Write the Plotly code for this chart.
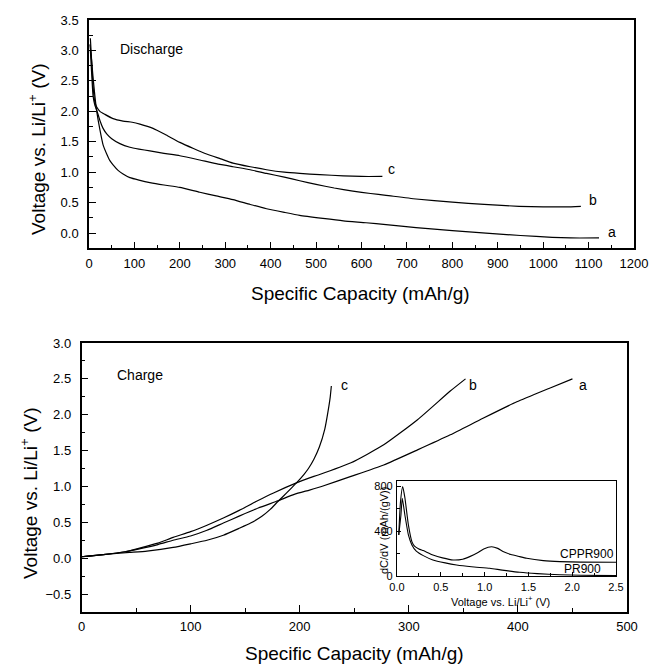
import plotly.graph_objects as go

# ---------------- data ----------------
# Discharge (top panel): capacity (mAh/g), voltage (V)
dis_a_cap = [2, 5, 9, 13, 17, 24, 31, 39, 46, 53, 64, 75, 90, 110, 134, 165, 200, 244, 280, 317, 355, 391, 430, 464, 515, 560, 610, 654, 720, 800, 874, 950, 1020, 1060, 1123]
dis_a_v = [3.1, 2.9, 2.55, 2.25, 2.0, 1.7, 1.45, 1.3, 1.19, 1.12, 1.03, 0.97, 0.91, 0.87, 0.83, 0.79, 0.75, 0.67, 0.61, 0.55, 0.47, 0.4, 0.34, 0.29, 0.24, 0.2, 0.17, 0.14, 0.09, 0.04, 0.0, -0.04, -0.07, -0.08, -0.08]
dis_b_cap = [3, 6, 9, 13, 17, 24, 31, 39, 50, 68, 90, 110, 134, 165, 200, 244, 280, 317, 355, 391, 430, 464, 500, 540, 581, 620, 654, 720, 800, 870, 947, 1000, 1050, 1083]
dis_b_v = [3.0, 2.6, 2.25, 2.1, 2.02, 1.85, 1.72, 1.63, 1.55, 1.47, 1.41, 1.38, 1.35, 1.31, 1.27, 1.2, 1.14, 1.09, 1.04, 0.98, 0.92, 0.86, 0.8, 0.74, 0.69, 0.65, 0.62, 0.56, 0.51, 0.47, 0.44, 0.43, 0.43, 0.44]
dis_c_cap = [3, 6, 9, 13, 17, 24, 35, 53, 75, 95, 112, 141, 170, 200, 230, 259, 290, 317, 355, 391, 430, 464, 508, 560, 600, 646]
dis_c_v = [3.2, 2.8, 2.4, 2.15, 2.07, 2.0, 1.95, 1.88, 1.84, 1.82, 1.79, 1.72, 1.61, 1.49, 1.39, 1.3, 1.22, 1.15, 1.09, 1.04, 1.0, 0.98, 0.96, 0.94, 0.93, 0.93]

# Charge (bottom panel)
chg_a_cap = [0, 20, 40, 53, 70, 84, 100, 115, 130, 145, 162, 180, 195, 209, 220, 247, 277, 308, 338, 368, 399, 429, 450]
chg_a_v = [0.02, 0.05, 0.09, 0.13, 0.19, 0.25, 0.31, 0.39, 0.49, 0.59, 0.7, 0.8, 0.89, 0.95, 1.0, 1.14, 1.3, 1.51, 1.72, 1.95, 2.18, 2.37, 2.5]
chg_b_cap = [0, 20, 40, 53, 70, 84, 100, 115, 130, 145, 160, 176, 197, 209, 217, 247, 277, 308, 338, 352]
chg_b_v = [0.02, 0.05, 0.09, 0.14, 0.21, 0.29, 0.37, 0.46, 0.56, 0.67, 0.79, 0.91, 1.05, 1.12, 1.16, 1.33, 1.58, 1.93, 2.33, 2.5]
chg_c_cap = [0, 20, 44, 60, 84, 100, 115, 130, 145, 155, 165, 173, 180, 188, 197, 204, 208, 213, 218, 223, 226, 228, 229]
chg_c_v = [0.02, 0.05, 0.08, 0.1, 0.15, 0.2, 0.25, 0.32, 0.42, 0.49, 0.58, 0.68, 0.79, 0.91, 1.05, 1.17, 1.25, 1.38, 1.55, 1.8, 2.05, 2.25, 2.4]

# Inset dC/dV
cppr_v = [0.02, 0.04, 0.065, 0.09, 0.13, 0.17, 0.2, 0.25, 0.3, 0.41, 0.52, 0.64, 0.75, 0.83, 0.92, 0.99, 1.08, 1.15, 1.21, 1.3, 1.4, 1.48, 1.67, 1.86, 2.1, 2.5]
cppr_dcdv = [366, 665, 800, 700, 456, 306, 265, 240, 225, 186, 160, 141, 148, 171, 205, 240, 260, 245, 216, 190, 171, 156, 135, 126, 122, 120]
pr_v = [0.02, 0.045, 0.06, 0.09, 0.13, 0.17, 0.22, 0.3, 0.41, 0.55, 0.68, 0.85, 1.06, 1.2, 1.4, 1.6, 1.86, 2.1, 2.5]
pr_dcdv = [366, 545, 695, 545, 366, 276, 220, 180, 141, 115, 96, 80, 66, 50, 30, 18, 8, 4, 0]

top_labels = ["a", "b", "c"]
top_label_x = [1152, 1110, 667]
top_label_y = [0.02, 0.54, 1.05]
bot_labels = ["a", "b", "c"]
bot_label_x = [460, 359, 241]
bot_label_y = [2.41, 2.41, 2.41]

# ---------------- figure ----------------
W, H = 650, 666
FONT = "Liberation Sans, Arial, Helvetica, sans-serif"

def px_x(p):
    return p / W

def px_y(p):
    return 1 - p / H

line = dict(color="black", width=1.2)
fig = go.Figure()

for cx, cy in [(dis_a_cap, dis_a_v), (dis_b_cap, dis_b_v), (dis_c_cap, dis_c_v)]:
    fig.add_trace(go.Scatter(x=cx, y=cy, mode="lines", line=dict(line, shape="spline", smoothing=0.5),
                             xaxis="x", yaxis="y", showlegend=False, hoverinfo="skip"))
for cx, cy in [(chg_a_cap, chg_a_v), (chg_b_cap, chg_b_v), (chg_c_cap, chg_c_v)]:
    fig.add_trace(go.Scatter(x=cx, y=cy, mode="lines", line=dict(line, shape="spline", smoothing=0.5),
                             xaxis="x2", yaxis="y2", showlegend=False, hoverinfo="skip"))
for cx, cy in [(cppr_v, cppr_dcdv), (pr_v, pr_dcdv)]:
    fig.add_trace(go.Scatter(x=cx, y=cy, mode="lines", line=dict(color="black", width=1.1, shape="spline", smoothing=0.5),
                             xaxis="x3", yaxis="y3", showlegend=False, hoverinfo="skip"))

tickfont = dict(family=FONT, size=13, color="black")
common = dict(showline=True, linecolor="black", linewidth=1.5, mirror=True, ticks="inside",
              ticklen=7, tickwidth=1.3, tickcolor="black", showgrid=False, zeroline=False,
              tickfont=tickfont, automargin=False)
inset_common = dict(showline=True, linecolor="black", linewidth=1.2, mirror=True, ticks="inside",
                    ticklen=4, tickwidth=1, tickcolor="black", showgrid=False, zeroline=False,
                    tickfont=dict(family=FONT, size=11, color="black"), automargin=False)
minor_main_x = dict(ticks="inside", dtick=50, ticklen=4, tickcolor="black", tickwidth=1.1)
minor_main_y = dict(ticks="inside", dtick=0.25, ticklen=4, tickcolor="black", tickwidth=1.1)

fig.update_layout(
    template="none",
    width=W, height=H, margin=dict(l=0, r=0, t=0, b=0, pad=0), autosize=False,
    paper_bgcolor="white", plot_bgcolor="white",
    font=dict(family=FONT, color="black"),
    xaxis=dict(common, domain=[px_x(89), px_x(634)], range=[0, 1200], dtick=100, tick0=0,
               anchor="y", ticklabelstandoff=2, minor=minor_main_x),
    yaxis=dict(common, domain=[px_y(248.3), px_y(20)], range=[-0.25, 3.5], dtick=0.5, tick0=0,
               tickformat=".1f", anchor="x", ticklabelstandoff=6, minor=minor_main_y),
    xaxis2=dict(common, domain=[px_x(81.5), px_x(627)], range=[0, 500], dtick=100, tick0=0,
                anchor="y2", ticklabelstandoff=2, minor=minor_main_x),
    yaxis2=dict(common, domain=[px_y(612), px_y(343)], range=[-0.75, 3.0], dtick=0.5, tick0=0,
                tickformat=".1f", anchor="x2", ticklabelstandoff=6, minor=minor_main_y),
    xaxis3=dict(inset_common, domain=[px_x(397), px_x(616)], range=[0, 2.5], dtick=0.5, tick0=0,
                tickformat=".1f", anchor="y3", ticklabelstandoff=1,
                minor=dict(ticks="inside", dtick=0.25, ticklen=3, tickcolor="black", tickwidth=1)),
    yaxis3=dict(inset_common, domain=[px_y(576), px_y(481)], range=[-3, 850], dtick=400, tick0=0,
                anchor="x3", ticklabelstandoff=1,
                minor=dict(ticks="inside", dtick=200, ticklen=3, tickcolor="black", tickwidth=1)),
)

ann = []
title_font = dict(family=FONT, size=19, color="black")
ann.append(dict(text="Specific Capacity (mAh/g)", x=px_x(360), y=px_y(294), xref="paper", yref="paper",
                showarrow=False, font=title_font, xanchor="center", yanchor="middle"))
ann.append(dict(text="Specific Capacity (mAh/g)", x=px_x(355), y=px_y(653), xref="paper", yref="paper",
                showarrow=False, font=title_font, xanchor="center", yanchor="middle"))
ann.append(dict(text="Voltage vs. Li/Li<sup>+</sup> (V)", x=px_x(37), y=px_y(150), xref="paper", yref="paper",
                showarrow=False, font=title_font, textangle=-90, xanchor="center", yanchor="middle"))
ann.append(dict(text="Voltage vs. Li/Li<sup>+</sup> (V)", x=px_x(29), y=px_y(494), xref="paper", yref="paper",
                showarrow=False, font=title_font, textangle=-90, xanchor="center", yanchor="middle"))
ann.append(dict(text="Discharge", x=64, y=3.03, xref="x", yref="y", showarrow=False,
                font=dict(family=FONT, size=14, color="black"), xanchor="left", yanchor="middle"))
ann.append(dict(text="Charge", x=31, y=2.55, xref="x2", yref="y2", showarrow=False,
                font=dict(family=FONT, size=14, color="black"), xanchor="left", yanchor="middle"))
for t, lx, ly in zip(top_labels, top_label_x, top_label_y):
    ann.append(dict(text=t, x=lx, y=ly, xref="x", yref="y", showarrow=False,
                    font=dict(family=FONT, size=14, color="black"), xanchor="center", yanchor="middle"))
for t, lx, ly in zip(bot_labels, bot_label_x, bot_label_y):
    ann.append(dict(text=t, x=lx, y=ly, xref="x2", yref="y2", showarrow=False,
                    font=dict(family=FONT, size=14, color="black"), xanchor="center", yanchor="middle"))
# inset texts
ann.append(dict(text="CPPR900", x=2.5, y=195, xref="x3", yref="y3", showarrow=False,
                font=dict(family=FONT, size=12, color="black"), xanchor="right", yanchor="middle"))
ann.append(dict(text="PR900", x=1.88, y=62, xref="x3", yref="y3", showarrow=False,
                font=dict(family=FONT, size=12, color="black"), xanchor="left", yanchor="middle"))
ann.append(dict(text="Voltage vs. Li/Li<sup>+</sup> (V)", x=px_x(500), y=px_y(601), xref="paper", yref="paper",
                showarrow=False, font=dict(family=FONT, size=11, color="black"), xanchor="center", yanchor="middle"))
ann.append(dict(text="dC/dV (mAh/(gV))", x=px_x(384), y=px_y(531), xref="paper", yref="paper",
                showarrow=False, font=dict(family=FONT, size=11, color="black"), textangle=-90,
                xanchor="center", yanchor="middle"))
fig.update_layout(annotations=ann)

fig.write_html("out.html")
